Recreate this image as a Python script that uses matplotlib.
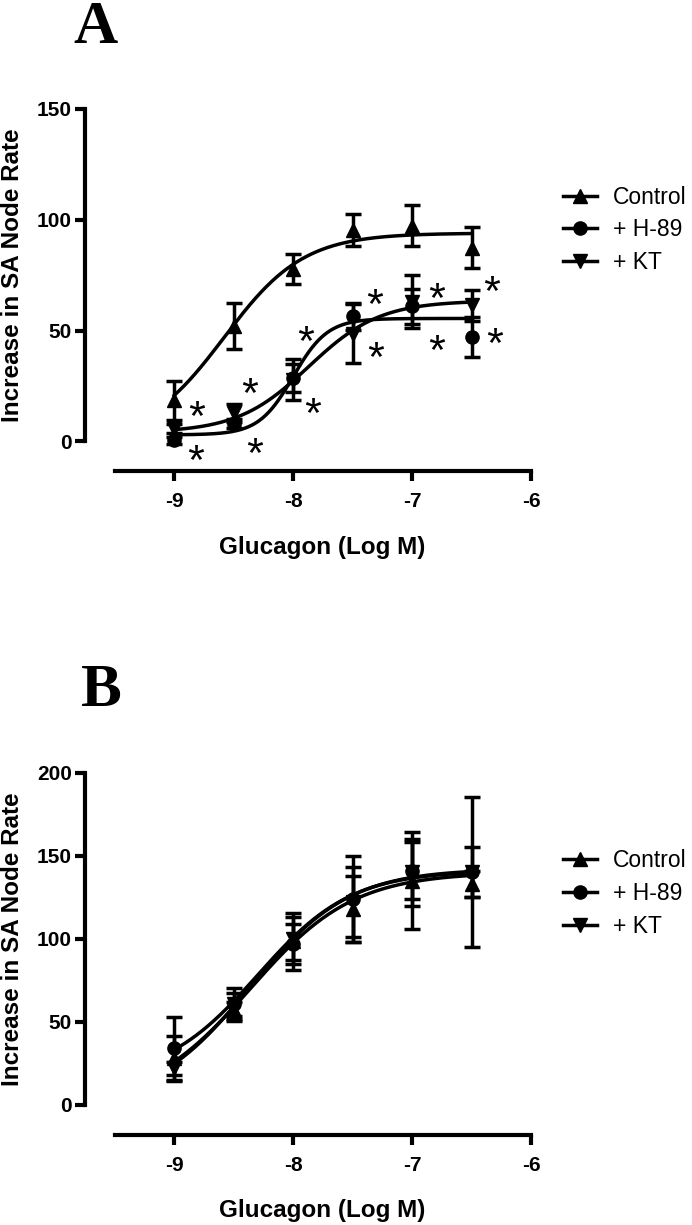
import numpy as np
import matplotlib
matplotlib.use("Agg")
import matplotlib.pyplot as plt
from matplotlib.lines import Line2D
from matplotlib.path import Path
from matplotlib.textpath import TextPath
from matplotlib.font_manager import FontProperties

plt.rcParams['font.family'] = ['Liberation Sans', 'DejaVu Sans']
plt.rcParams['axes.unicode_minus'] = False

# log molar glucagon doses
dose = [-9, -8.5, -8, -7.5, -7, -6.5]
labels = ["Control", "+ H-89", "+ KT"]

# panel A: means and SEM
ctrl_a = [18.6, 52, 77.7, 95.4, 97.4, 87.4]
ctrl_a_err = [8.7, 10.4, 6.8, 7.3, 9.4, 9.3]
h89_a = [0.5, 8, 28.7, 56.5, 61, 47]
h89_a_err = [1.5, 2, 6.3, 6, 8, 9]
kt_a = [5.8, 13, 27.8, 48.6, 63, 61.4]
kt_a_err = [2, 4, 9.3, 13.3, 12, 7]

# panel A fitted curves: bottom, top, logEC50, hill slope
ctrl_a_fit = [0, 94, -8.58, 1.3]
h89_a_fit = [3, 55.5, -8.0, 3.0]
kt_a_fit = [4, 63.5, -7.87, 1.45]

# panel A significance marks
ast_x = [-8.81, -8.82, -8.36, -8.32, -7.89, -7.83, -7.31, -7.30, -6.79, -6.79, -6.33, -6.30]
ast_y = [15.2, -4.8, 25.3, -1.4, 49.1, 16.3, 65.5, 41.9, 68.2, 44.9, 71.5, 47.9]

# panel B: means and SEM
ctrl_b = [28, 57, 98.5, 118, 135, 133]
ctrl_b_err = [13.5, 5, 17, 20, 29, 8]
h89_b = [34, 60.5, 97, 124, 141, 140]
h89_b_err = [19, 10, 12, 26, 17, 15]
kt_b = [22, 60.5, 100, 122, 140, 140]
kt_b_err = [4, 7, 13, 21, 20, 45]

ctrl_b_fit = [0, 140, -8.36, 1.0]
h89_b_fit = [15, 141, -8.3, 1.1]
kt_b_fit = [0, 142, -8.36, 1.05]


def hill(x, bottom, top, logec50, slope):
    return bottom + (top - bottom) / (1 + 10 ** ((logec50 - x) * slope))


# asterisk glyph centred as a marker
tp = TextPath((0, 0), '*', prop=FontProperties(family='Liberation Sans'))
real = tp.codes != Path.CLOSEPOLY
cen = (tp.vertices[real].min(0) + tp.vertices[real].max(0)) / 2
sv = tp.vertices - cen
sv[~real] = 0
star = Path(sv, tp.codes)

W, H = 692, 1225
fig = plt.figure(figsize=(W / 100, H / 100), dpi=100)

markers = ['^', 'o', 'v']
lw = 2.5


def panel(top_px, ymax, yticks, series, fits, letter, letter_x):
    axis_px = top_px + 362.5
    zero_px = axis_px - 30
    per = (zero_px - top_px) / ymax
    ylo = -30 / per
    ax = fig.add_axes([85 / W, 1 - axis_px / H, 446 / W, 362.5 / H])
    ax.set_xlim(-9.75, -6)
    ax.set_ylim(ylo, ymax)
    xf = np.linspace(-9, -6.5, 300)
    for (y, e), p, m in zip(series, fits, markers):
        ax.errorbar(dose, y, yerr=e, fmt='none', ecolor='k', elinewidth=lw,
                    capsize=6, capthick=lw, zorder=2)
        ax.plot(xf, hill(xf, *p), color='k', lw=lw, zorder=3)
        ax.plot(dose, y, ls='none', marker=m, ms=9.5, color='k', zorder=4)
    for s in ['top', 'right']:
        ax.spines[s].set_visible(False)
    ax.spines['left'].set_bounds(0, ymax)
    ax.spines['bottom'].set_bounds(-9.5, -6)
    for s in ['left', 'bottom']:
        ax.spines[s].set_linewidth(3)
    ax.set_xticks([-9, -8, -7, -6])
    ax.set_yticks(yticks)
    ax.tick_params(width=3, length=7, labelsize=15)
    ax.tick_params(axis='x', pad=8)
    ax.tick_params(axis='y', pad=2.5)
    for t in ax.get_xticklabels() + ax.get_yticklabels():
        t.set_fontweight('bold')
    handles = [Line2D([], [], color='k', lw=lw, marker=m, ms=9.5) for m in markers]
    ax.legend(handles, labels, loc='center left',
              bbox_to_anchor=(563 / W, 1 - (top_px + 121) / H),
              bbox_transform=fig.transFigure, frameon=False, fontsize=16.5,
              handlelength=1.48, handletextpad=0.7, labelspacing=0.42,
              borderpad=0, borderaxespad=0)
    fig.text(13 / W, 1 - (top_px + zero_px) / 2 / H, "Increase in SA Node Rate",
             rotation=90, ha='center', va='center', fontsize=17.5, fontweight='bold')
    fig.text(322.5 / W, 1 - (axis_px + 76) / H, "Glucagon (Log M)",
             ha='center', va='center', fontsize=17.5, fontweight='bold')
    fig.text(letter_x / W, 1 - (top_px - 66) / H, letter, family='Liberation Serif',
             fontweight='bold', fontsize=44, ha='center', va='baseline')
    return ax


ax_a = panel(109, 150, [0, 50, 100, 150],
             [(ctrl_a, ctrl_a_err), (h89_a, h89_a_err), (kt_a, kt_a_err)],
             [ctrl_a_fit, h89_a_fit, kt_a_fit], "A", 95)
ax_a.plot(ast_x, ast_y, ls='none', marker=star, ms=11, color='k',
          markeredgewidth=0, zorder=5)

ax_b = panel(772.5, 200, [0, 50, 100, 150, 200],
             [(ctrl_b, ctrl_b_err), (h89_b, h89_b_err), (kt_b, kt_b_err)],
             [ctrl_b_fit, h89_b_fit, kt_b_fit], "B", 101)

fig.savefig("out.png", dpi=100)
